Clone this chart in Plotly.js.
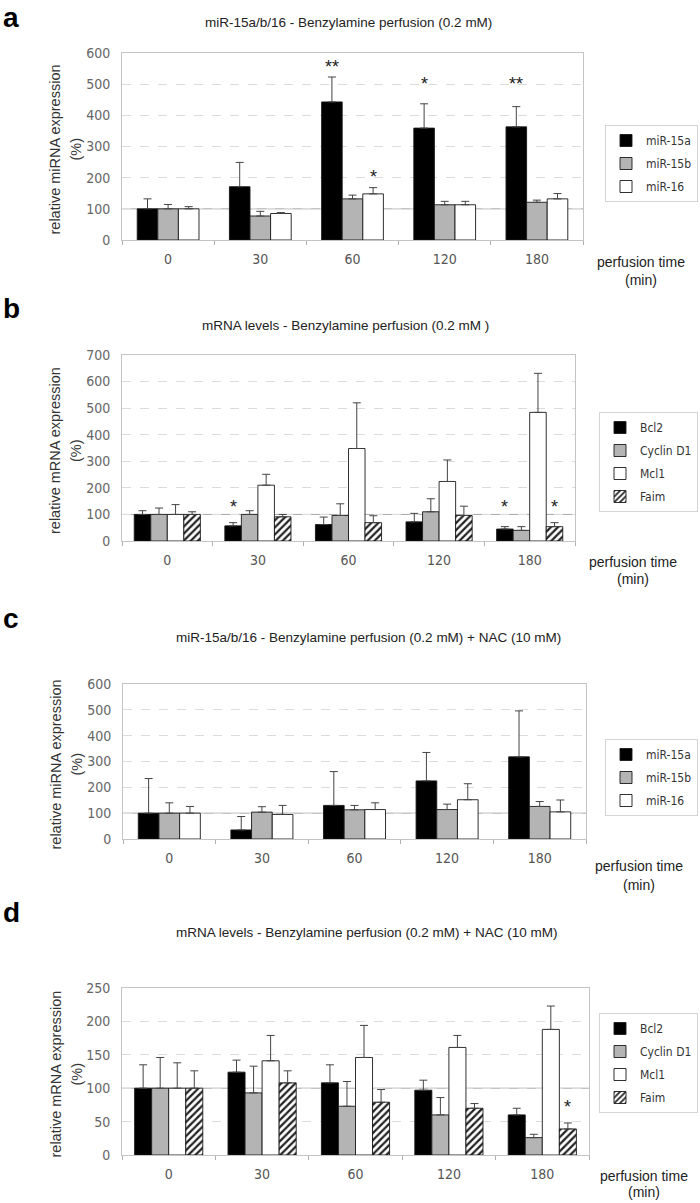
<!DOCTYPE html>
<html>
<head>
<meta charset="utf-8">
<script src="https://cdn.plot.ly/plotly-3.0.1.min.js"></script>
<style>
  html, body { margin: 0; padding: 0; background: #fff; }
  #fig { width: 700px; height: 1203px; }
</style>
</head>
<body>
<div id="fig"></div>
<script>
// ---- data ----
const times = ["0", "30", "60", "120", "180"];

// a: miR-15a/b/16, benzylamine
const miRNames = ["miR-15a", "miR-15b", "miR-16"];
const a_miR15a = [100, 171, 443, 359, 363];
const a_miR15a_err = [32, 78, 80, 78, 65];
const a_miR15b = [100, 77, 132, 113, 121];
const a_miR15b_err = [14, 15, 12, 11, 7];
const a_miR16 = [100, 85, 148, 113, 132];
const a_miR16_err = [7, 3, 20, 11, 17];

// b: mRNA, benzylamine
const mRNANames = ["Bcl2", "Cyclin D1", "Mcl1", "Faim"];
const b_bcl2 = [100, 57, 62, 72, 45];
const b_bcl2_err = [14, 12, 28, 32, 9];
const b_cycd1 = [100, 100, 96, 110, 40];
const b_cycd1_err = [24, 14, 44, 49, 14];
const b_mcl1 = [100, 210, 348, 224, 484];
const b_mcl1_err = [37, 41, 172, 81, 147];
const b_faim = [100, 91, 69, 96, 54];
const b_faim_err = [10, 9, 26, 35, 15];

// c: miR-15a/b/16, benzylamine + NAC
const c_miR15a = [100, 35, 130, 225, 318];
const c_miR15a_err = [134, 52, 131, 110, 178];
const c_miR15b = [100, 104, 113, 114, 126];
const c_miR15b_err = [40, 21, 17, 21, 19];
const c_miR16 = [100, 95, 114, 152, 105];
const c_miR16_err = [26, 35, 26, 62, 46];

// d: mRNA, benzylamine + NAC
const d_bcl2 = [100, 124, 108, 97, 60];
const d_bcl2_err = [35, 18, 27, 15, 10];
const d_cycd1 = [100, 93, 73, 60, 26];
const d_cycd1_err = [46, 40, 37, 26, 5];
const d_mcl1 = [100, 141, 146, 161, 188];
const d_mcl1_err = [38, 38, 48, 18, 35];
const d_faim = [100, 108, 79, 70, 39];
const d_faim_err = [26, 18, 19, 7, 9];

// significance marks: [time index, series index, label, y value]
const a_stars = [[2, 0, "**", 568], [2, 2, "*", 216], [3, 0, "*", 512], [4, 0, "**", 512]];
const b_stars = [[1, 0, "*", 142], [4, 0, "*", 142], [4, 3, "*", 142]];
const c_stars = [];
const d_stars = [[4, 3, "*", 78]];

// ---- styling ----
const W = 700, H = 1203;
const px = x => x / W;
const py = y => 1 - y / H;

const NARROW = "Liberation Sans Narrow, DejaVu Sans Condensed, Arial Narrow, sans-serif";
const SANS = "Liberation Sans, Arial, sans-serif";

const fills = [
  { color: "#000000" },
  { color: "#b4b4b4" },
  { color: "#ffffff" },
  { color: "#ffffff", pattern: { shape: "/", fgcolor: "#222", bgcolor: "#fff", size: 5, solidity: 0.45 } }
];

const panels = [
  {
    id: "", letter: "a", box: [122, 583, 53, 240], range: [0, 600], dtick: 100, gap: 0.33,
    title: "miR-15a/b/16 - Benzylamine perfusion (0.2 mM)", titleX: 348, titleY: 23, letterY: 0,
    ylab: "relative miRNA expression", names: miRNames,
    vals: [a_miR15a, a_miR15b, a_miR16], errs: [a_miR15a_err, a_miR15b_err, a_miR16_err],
    stars: a_stars, legendBox: [698, 125], pt: [641, 262, 280]
  },
  {
    id: "2", letter: "b", box: [122, 575, 355, 541], range: [0, 700], dtick: 100, gap: 0.27,
    title: "mRNA levels - Benzylamine perfusion (0.2 mM )", titleX: 345, titleY: 325, letterY: 291,
    ylab: "relative mRNA expression", names: mRNANames,
    vals: [b_bcl2, b_cycd1, b_mcl1, b_faim], errs: [b_bcl2_err, b_cycd1_err, b_mcl1_err, b_faim_err],
    stars: b_stars, legendBox: [698, 412], pt: [633, 562, 579]
  },
  {
    id: "3", letter: "c", box: [123, 586, 684, 839], range: [0, 600], dtick: 100, gap: 0.33,
    title: "miR-15a/b/16 - Benzylamine perfusion (0.2 mM) + NAC (10 mM)", titleX: 368, titleY: 637, letterY: 601,
    ylab: "relative miRNA expression", names: miRNames,
    vals: [c_miR15a, c_miR15b, c_miR16], errs: [c_miR15a_err, c_miR15b_err, c_miR16_err],
    stars: c_stars, legendBox: [698, 739], pt: [639, 866, 885]
  },
  {
    id: "4", letter: "d", box: [122, 589, 988, 1155], range: [0, 250], dtick: 50, gap: 0.27,
    title: "mRNA levels - Benzylamine perfusion (0.2 mM) + NAC (10 mM)", titleX: 366, titleY: 932, letterY: 895,
    ylab: "relative mRNA expression", names: mRNANames,
    vals: [d_bcl2, d_cycd1, d_mcl1, d_faim], errs: [d_bcl2_err, d_cycd1_err, d_mcl1_err, d_faim_err],
    stars: d_stars, legendBox: [698, 1013], pt: [644, 1176, 1192]
  }
];

const traces = [];
const annotations = [];
const shapes = [];
const layout = {
  width: W, height: H,
  margin: { l: 0, r: 0, t: 0, b: 0 },
  paper_bgcolor: "#fff", plot_bgcolor: "#fff",
  showlegend: true,
  barmode: "overlay",
  font: { family: SANS, color: "#333" },
  annotations, shapes
};

panels.forEach((p, pi) => {
  const xa = "x" + p.id, ya = "y" + p.id;
  const legendId = "legend" + p.id;
  const n = p.vals.length;
  const bw = (1 - p.gap) / n;

  p.vals.forEach((v, k) => {
    const zeros = v.map(() => 0);
    traces.push({
      type: "bar",
      name: p.names[k],
      x: times, y: v,
      xaxis: xa, yaxis: ya,
      legend: legendId,
      legendgroup: p.letter + k,
      width: bw,
      offset: -(1 - p.gap) / 2 + k * bw,
      marker: Object.assign({ line: { color: "#1a1a1a", width: 0.9 } }, fills[k]),
      error_y: {
        type: "data", array: p.errs[k], arrayminus: zeros, symmetric: false,
        color: "#444", thickness: 1, width: 4
      },
      hoverinfo: "skip"
    });
  });

  const [x0, x1, y0, y1] = p.box;
  layout["xaxis" + p.id] = {
    domain: [px(x0), px(x1)], anchor: ya,
    type: "category", tickson: "boundaries",
    ticks: "outside", ticklen: 4, tickcolor: "#b0b0b0",
    showline: true, linecolor: "#c4c4c4", linewidth: 1, mirror: true,
    showgrid: false, zeroline: false, fixedrange: true,
    ticklabelstandoff: 6,
    tickfont: { family: NARROW, size: 14, color: "#555" }
  };
  layout["yaxis" + p.id] = {
    domain: [py(y1), py(y0)], anchor: xa,
    range: p.range, dtick: p.dtick,
    showgrid: true, gridcolor: "#dcdcdc", griddash: "dash", gridwidth: 1,
    showline: true, linecolor: "#c4c4c4", linewidth: 1, mirror: true,
    zeroline: false, ticks: "", ticklabelstandoff: 8, fixedrange: true,
    tickfont: { family: NARROW, size: 14, color: "#666" }
  };
  layout[legendId] = {
    x: px(p.legendBox[0]), xanchor: "right",
    y: py(p.legendBox[1]), yanchor: "top",
    bgcolor: "#fff", bordercolor: "#d4d4d4", borderwidth: 1,
    font: { family: NARROW, size: 12, color: "#333" },
    itemwidth: 30, tracegroupgap: 4, traceorder: "grouped"
  };

  // reference line at 100 %
  shapes.push({
    type: "line", xref: xa + " domain", x0: 0, x1: 1, yref: ya, y0: 100, y1: 100,
    line: { color: "#a8a8a8", width: 1 }, layer: "below"
  });

  // panel letter (top of its text box) and title
  annotations.push({
    xref: "paper", yref: "paper", x: px(11), y: py(p.letterY), text: p.letter,
    showarrow: false, xanchor: "center", yanchor: "top",
    font: { family: SANS, size: 28, color: "#000", weight: "bold" }
  });
  annotations.push({
    xref: "paper", yref: "paper", x: px(p.titleX), y: py(p.titleY), text: p.title,
    showarrow: false, xanchor: "center", yanchor: "middle",
    font: { family: SANS, size: 13.5, color: "#222" }
  });

  // y axis title (two lines)
  const ymid = (y0 + y1) / 2 + 3;
  annotations.push({
    xref: "paper", yref: "paper", x: px(55), y: py(ymid), text: p.ylab, textangle: -90,
    showarrow: false, xanchor: "center", yanchor: "middle",
    font: { family: SANS, size: 14.5, color: "#333" }
  });
  annotations.push({
    xref: "paper", yref: "paper", x: px(76), y: py(ymid), text: "(%)", textangle: -90,
    showarrow: false, xanchor: "center", yanchor: "middle",
    font: { family: SANS, size: 14.5, color: "#333" }
  });

  // x axis title at the right
  annotations.push({
    xref: "paper", yref: "paper", x: px(p.pt[0]), y: py(p.pt[1]), text: "perfusion time",
    showarrow: false, xanchor: "center", yanchor: "middle",
    font: { family: SANS, size: 14, color: "#222" }
  });
  annotations.push({
    xref: "paper", yref: "paper", x: px(p.pt[0]), y: py(p.pt[2]), text: "(min)",
    showarrow: false, xanchor: "center", yanchor: "middle",
    font: { family: SANS, size: 14, color: "#222" }
  });

  // significance stars over the bars
  p.stars.forEach(([ti, k, lab, yv]) => {
    annotations.push({
      xref: xa, yref: ya, x: ti - (1 - p.gap) / 2 + (k + 0.5) * bw, y: yv, text: lab,
      showarrow: false, xanchor: "center", yanchor: "middle", yshift: -4,
      font: { family: SANS, size: 18, color: "#222" }
    });
  });
});

Plotly.newPlot("fig", traces, layout, { staticPlot: true, displayModeBar: false });
</script>
</body>
</html>
